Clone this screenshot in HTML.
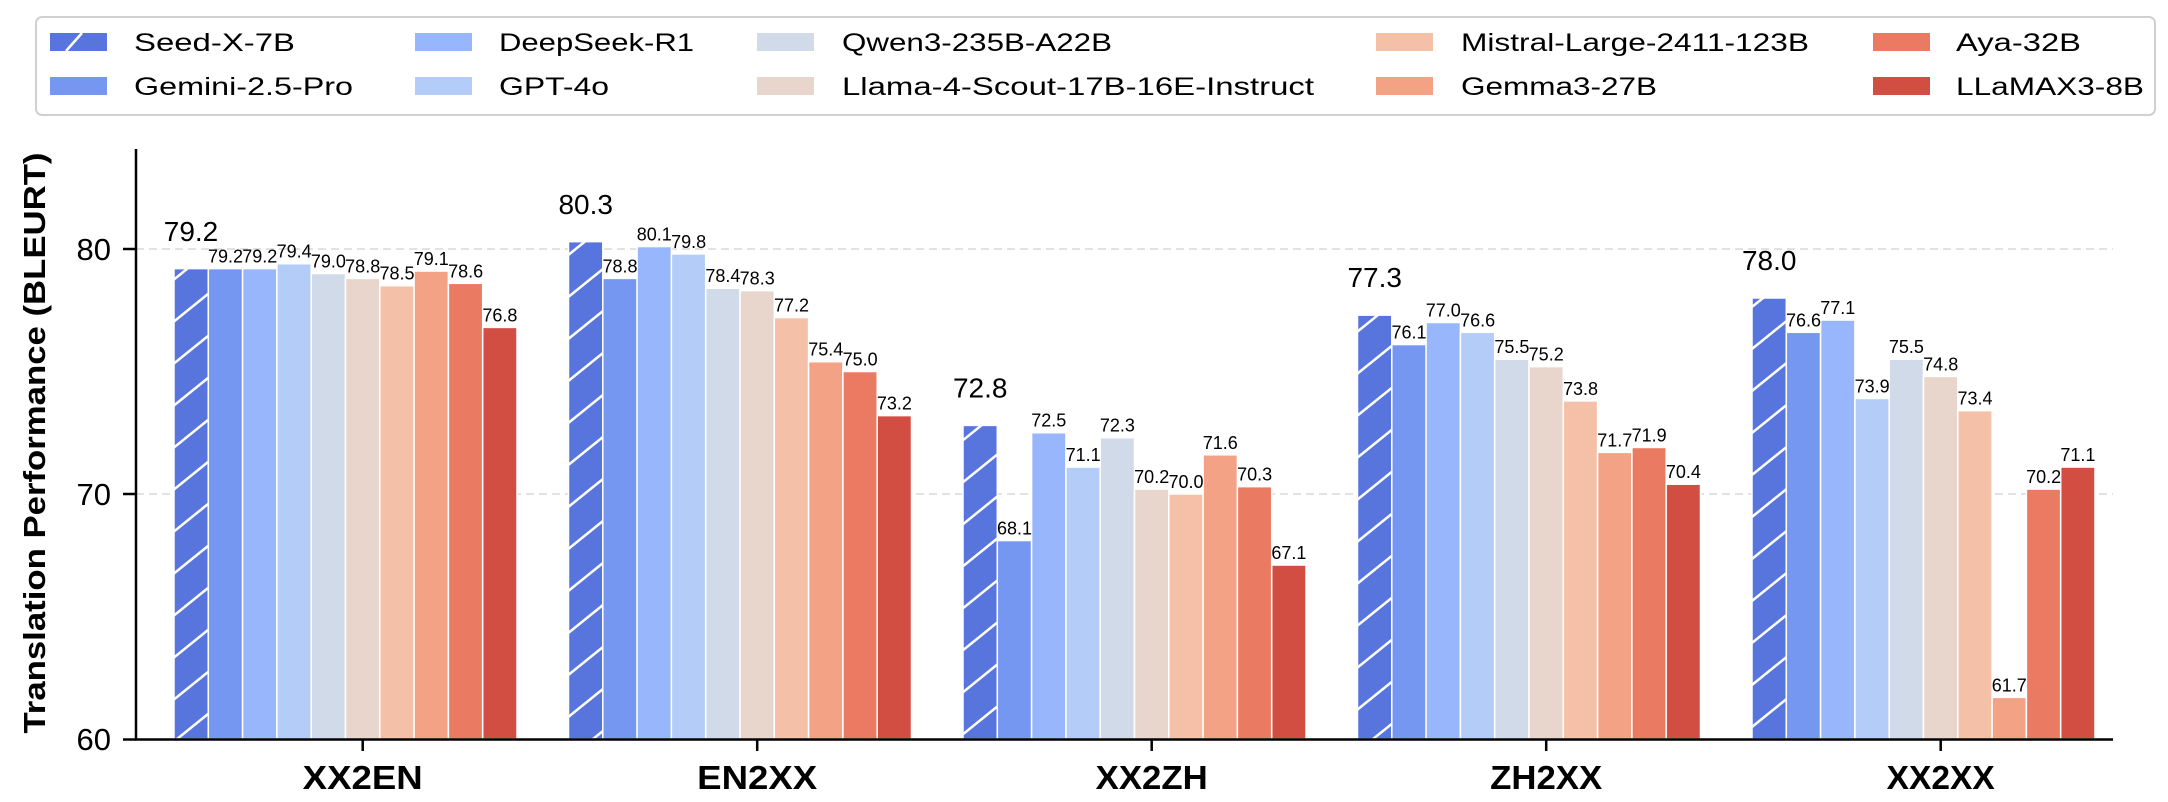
<!DOCTYPE html>
<html><head><meta charset="utf-8"><style>
html,body{margin:0;padding:0;background:#fff;}
svg{display:block;}
text{font-family:"Liberation Sans",sans-serif;fill:#000;}
.s{font-size:18px;text-anchor:middle;}
.b{font-size:28px;text-anchor:middle;}
.lg{font-size:25px;}
.xl{font-size:33px;font-weight:bold;text-anchor:middle;}
.yt{font-size:31px;text-anchor:end;}
</style></head><body>
<svg width="2168" height="802" viewBox="0 0 2168 802" xmlns="http://www.w3.org/2000/svg">
<defs>
<pattern id="h" patternUnits="userSpaceOnUse" width="52" height="42">
<rect width="52" height="42" fill="#5875de"/>
<path d="M0,42 L52,0 M-26,21 L26,-21 M26,63 L78,21" stroke="#fff" stroke-width="2.5"/>
</pattern>
</defs>
<line x1="136" y1="249" x2="2113" y2="249" stroke="#d9d9d9" stroke-width="1.5" stroke-dasharray="8,5"/>
<line x1="136" y1="494" x2="2113" y2="494" stroke="#d9d9d9" stroke-width="1.5" stroke-dasharray="8,5"/>

<g stroke="#fff" stroke-width="1.5">
<rect x="174.0" y="268.6" width="34.3" height="470.4" fill="url(#h)"/>
<rect x="208.3" y="268.6" width="34.3" height="470.4" fill="#7597f2"/>
<rect x="242.6" y="268.6" width="34.3" height="470.4" fill="#97b6fb"/>
<rect x="276.9" y="263.7" width="34.3" height="475.3" fill="#b4cdf8"/>
<rect x="311.2" y="273.5" width="34.3" height="465.5" fill="#d1dae8"/>
<rect x="345.5" y="278.4" width="34.3" height="460.6" fill="#e8d5cb"/>
<rect x="379.8" y="285.75" width="34.3" height="453.25" fill="#f4c0a7"/>
<rect x="414.1" y="271.05" width="34.3" height="467.95" fill="#f4a285"/>
<rect x="448.4" y="283.3" width="34.3" height="455.7" fill="#ea7b62"/>
<rect x="482.7" y="327.4" width="34.3" height="411.6" fill="#d24e42"/>
<rect x="568.5" y="241.65" width="34.3" height="497.35" fill="url(#h)"/>
<rect x="602.8" y="278.4" width="34.3" height="460.6" fill="#7597f2"/>
<rect x="637.1" y="246.55" width="34.3" height="492.45" fill="#97b6fb"/>
<rect x="671.4" y="253.9" width="34.3" height="485.1" fill="#b4cdf8"/>
<rect x="705.7" y="288.2" width="34.3" height="450.8" fill="#d1dae8"/>
<rect x="740.0" y="290.65" width="34.3" height="448.35" fill="#e8d5cb"/>
<rect x="774.3" y="317.6" width="34.3" height="421.4" fill="#f4c0a7"/>
<rect x="808.6" y="361.7" width="34.3" height="377.3" fill="#f4a285"/>
<rect x="842.9" y="371.5" width="34.3" height="367.5" fill="#ea7b62"/>
<rect x="877.2" y="415.6" width="34.3" height="323.4" fill="#d24e42"/>
<rect x="963.0" y="425.4" width="34.3" height="313.6" fill="url(#h)"/>
<rect x="997.3" y="540.55" width="34.3" height="198.45" fill="#7597f2"/>
<rect x="1031.6" y="432.75" width="34.3" height="306.25" fill="#97b6fb"/>
<rect x="1065.9" y="467.05" width="34.3" height="271.95" fill="#b4cdf8"/>
<rect x="1100.2" y="437.65" width="34.3" height="301.35" fill="#d1dae8"/>
<rect x="1134.5" y="489.1" width="34.3" height="249.9" fill="#e8d5cb"/>
<rect x="1168.8" y="494" width="34.3" height="245" fill="#f4c0a7"/>
<rect x="1203.1" y="454.8" width="34.3" height="284.2" fill="#f4a285"/>
<rect x="1237.4" y="486.65" width="34.3" height="252.35" fill="#ea7b62"/>
<rect x="1271.7" y="565.05" width="34.3" height="173.95" fill="#d24e42"/>
<rect x="1357.5" y="315.15" width="34.3" height="423.85" fill="url(#h)"/>
<rect x="1391.8" y="344.55" width="34.3" height="394.45" fill="#7597f2"/>
<rect x="1426.1" y="322.5" width="34.3" height="416.5" fill="#97b6fb"/>
<rect x="1460.4" y="332.3" width="34.3" height="406.7" fill="#b4cdf8"/>
<rect x="1494.7" y="359.25" width="34.3" height="379.75" fill="#d1dae8"/>
<rect x="1529.0" y="366.6" width="34.3" height="372.4" fill="#e8d5cb"/>
<rect x="1563.3" y="400.9" width="34.3" height="338.1" fill="#f4c0a7"/>
<rect x="1597.6" y="452.35" width="34.3" height="286.65" fill="#f4a285"/>
<rect x="1631.9" y="447.45" width="34.3" height="291.55" fill="#ea7b62"/>
<rect x="1666.2" y="484.2" width="34.3" height="254.8" fill="#d24e42"/>
<rect x="1752.0" y="298" width="34.3" height="441" fill="url(#h)"/>
<rect x="1786.3" y="332.3" width="34.3" height="406.7" fill="#7597f2"/>
<rect x="1820.6" y="320.05" width="34.3" height="418.95" fill="#97b6fb"/>
<rect x="1854.9" y="398.45" width="34.3" height="340.55" fill="#b4cdf8"/>
<rect x="1889.2" y="359.25" width="34.3" height="379.75" fill="#d1dae8"/>
<rect x="1923.5" y="376.4" width="34.3" height="362.6" fill="#e8d5cb"/>
<rect x="1957.8" y="410.7" width="34.3" height="328.3" fill="#f4c0a7"/>
<rect x="1992.1" y="697.35" width="34.3" height="41.65" fill="#f4a285"/>
<rect x="2026.4" y="489.1" width="34.3" height="249.9" fill="#ea7b62"/>
<rect x="2060.7" y="467.05" width="34.3" height="271.95" fill="#d24e42"/>
</g>

<text class="b" x="191" y="241">79.2</text>
<text class="s" x="225.5" y="262.6">79.2</text>
<text class="s" x="259.8" y="262.6">79.2</text>
<text class="s" x="294.1" y="257.7">79.4</text>
<text class="s" x="328.4" y="267.5">79.0</text>
<text class="s" x="362.7" y="272.4">78.8</text>
<text class="s" x="397.0" y="279.7">78.5</text>
<text class="s" x="431.3" y="265.0">79.1</text>
<text class="s" x="465.6" y="277.3">78.6</text>
<text class="s" x="499.9" y="321.4">76.8</text>

<text class="b" x="585.7" y="214">80.3</text>
<text class="s" x="620.0" y="272.4">78.8</text>
<text class="s" x="654.3" y="240.5">80.1</text>
<text class="s" x="688.6" y="247.9">79.8</text>
<text class="s" x="722.9" y="282.2">78.4</text>
<text class="s" x="757.2" y="284.6">78.3</text>
<text class="s" x="791.5" y="311.6">77.2</text>
<text class="s" x="825.8" y="355.7">75.4</text>
<text class="s" x="860.1" y="365.5">75.0</text>
<text class="s" x="894.4" y="409.6">73.2</text>

<text class="b" x="980.2" y="397.4">72.8</text>
<text class="s" x="1014.5" y="534.5">68.1</text>
<text class="s" x="1048.8" y="426.7">72.5</text>
<text class="s" x="1083.1" y="461.0">71.1</text>
<text class="s" x="1117.4" y="431.6">72.3</text>
<text class="s" x="1151.7" y="483.1">70.2</text>
<text class="s" x="1186.0" y="488">70.0</text>
<text class="s" x="1220.3" y="448.8">71.6</text>
<text class="s" x="1254.6" y="480.6">70.3</text>
<text class="s" x="1288.9" y="559.0">67.1</text>

<text class="b" x="1374.7" y="287.2">77.3</text>
<text class="s" x="1409.0" y="338.5">76.1</text>
<text class="s" x="1443.3" y="316.5">77.0</text>
<text class="s" x="1477.6" y="326.3">76.6</text>
<text class="s" x="1511.9" y="353.2">75.5</text>
<text class="s" x="1546.2" y="360.6">75.2</text>
<text class="s" x="1580.5" y="394.9">73.8</text>
<text class="s" x="1614.8" y="446.3">71.7</text>
<text class="s" x="1649.1" y="441.4">71.9</text>
<text class="s" x="1683.4" y="478.2">70.4</text>

<text class="b" x="1769.2" y="270">78.0</text>
<text class="s" x="1803.5" y="326.3">76.6</text>
<text class="s" x="1837.8" y="314.0">77.1</text>
<text class="s" x="1872.1" y="392.4">73.9</text>
<text class="s" x="1906.4" y="353.2">75.5</text>
<text class="s" x="1940.7" y="370.4">74.8</text>
<text class="s" x="1975.0" y="404.7">73.4</text>
<text class="s" x="2009.3" y="691.3">61.7</text>
<text class="s" x="2043.6" y="483.1">70.2</text>
<text class="s" x="2077.9" y="461.0">71.1</text>

<line x1="136" y1="149" x2="136" y2="740" stroke="#000" stroke-width="2.5"/>
<line x1="134.8" y1="739.5" x2="2113" y2="739.5" stroke="#000" stroke-width="2.5"/>
<g stroke="#000" stroke-width="2.5">
<line x1="123" y1="249" x2="136" y2="249"/>
<line x1="123" y1="494" x2="136" y2="494"/>
<line x1="123" y1="739.5" x2="136" y2="739.5"/>
<line x1="362.7" y1="739" x2="362.7" y2="751"/>
<line x1="757.2" y1="739" x2="757.2" y2="751"/>
<line x1="1151.7" y1="739" x2="1151.7" y2="751"/>
<line x1="1546.2" y1="739" x2="1546.2" y2="751"/>
<line x1="1940.7" y1="739" x2="1940.7" y2="751"/>
</g>
<text class="yt" x="111" y="260">80</text>
<text class="yt" x="111" y="505">70</text>
<text class="yt" x="111" y="750">60</text>
<text class="xl" x="362.7" y="789" textLength="120" lengthAdjust="spacingAndGlyphs">XX2EN</text>
<text class="xl" x="757.2" y="789" textLength="120" lengthAdjust="spacingAndGlyphs">EN2XX</text>
<text class="xl" x="1151.7" y="789" textLength="112" lengthAdjust="spacingAndGlyphs">XX2ZH</text>
<text class="xl" x="1546.2" y="789" textLength="112" lengthAdjust="spacingAndGlyphs">ZH2XX</text>
<text class="xl" x="1940.7" y="789" textLength="108" lengthAdjust="spacingAndGlyphs">XX2XX</text>
<text transform="translate(45,443) rotate(-90)" style="font-size:31px;font-weight:bold;text-anchor:middle;" textLength="581" lengthAdjust="spacingAndGlyphs">Translation Performance (BLEURT)</text>

<rect x="36" y="17" width="2119" height="98" rx="6" fill="#fff" stroke="#d0d0d0" stroke-width="2"/>
<rect x="50" y="33" width="57" height="18" fill="#5875de"/>
<line x1="66" y1="51" x2="82" y2="33" stroke="#fff" stroke-width="2.5"/>
<rect x="50" y="77" width="57" height="18" fill="#7597f2"/>
<rect x="415" y="33" width="57" height="18" fill="#97b6fb"/>
<rect x="415" y="77" width="57" height="18" fill="#b4cdf8"/>
<rect x="757" y="33" width="57" height="18" fill="#d1dae8"/>
<rect x="757" y="77" width="57" height="18" fill="#e8d5cb"/>
<rect x="1376" y="33" width="57" height="18" fill="#f4c0a7"/>
<rect x="1376" y="77" width="57" height="18" fill="#f4a285"/>
<rect x="1873" y="33" width="57" height="18" fill="#ea7b62"/>
<rect x="1873" y="77" width="57" height="18" fill="#d24e42"/>
<text class="lg" x="134" y="51" textLength="161" lengthAdjust="spacingAndGlyphs">Seed-X-7B</text>
<text class="lg" x="134" y="95" textLength="219" lengthAdjust="spacingAndGlyphs">Gemini-2.5-Pro</text>
<text class="lg" x="499" y="51" textLength="195" lengthAdjust="spacingAndGlyphs">DeepSeek-R1</text>
<text class="lg" x="499" y="95" textLength="110" lengthAdjust="spacingAndGlyphs">GPT-4o</text>
<text class="lg" x="842" y="51" textLength="270" lengthAdjust="spacingAndGlyphs">Qwen3-235B-A22B</text>
<text class="lg" x="842" y="95" textLength="472" lengthAdjust="spacingAndGlyphs">Llama-4-Scout-17B-16E-Instruct</text>
<text class="lg" x="1461" y="51" textLength="348" lengthAdjust="spacingAndGlyphs">Mistral-Large-2411-123B</text>
<text class="lg" x="1461" y="95" textLength="196" lengthAdjust="spacingAndGlyphs">Gemma3-27B</text>
<text class="lg" x="1956" y="51" textLength="125" lengthAdjust="spacingAndGlyphs">Aya-32B</text>
<text class="lg" x="1956" y="95" textLength="188" lengthAdjust="spacingAndGlyphs">LLaMAX3-8B</text>
</svg>
</body></html>
